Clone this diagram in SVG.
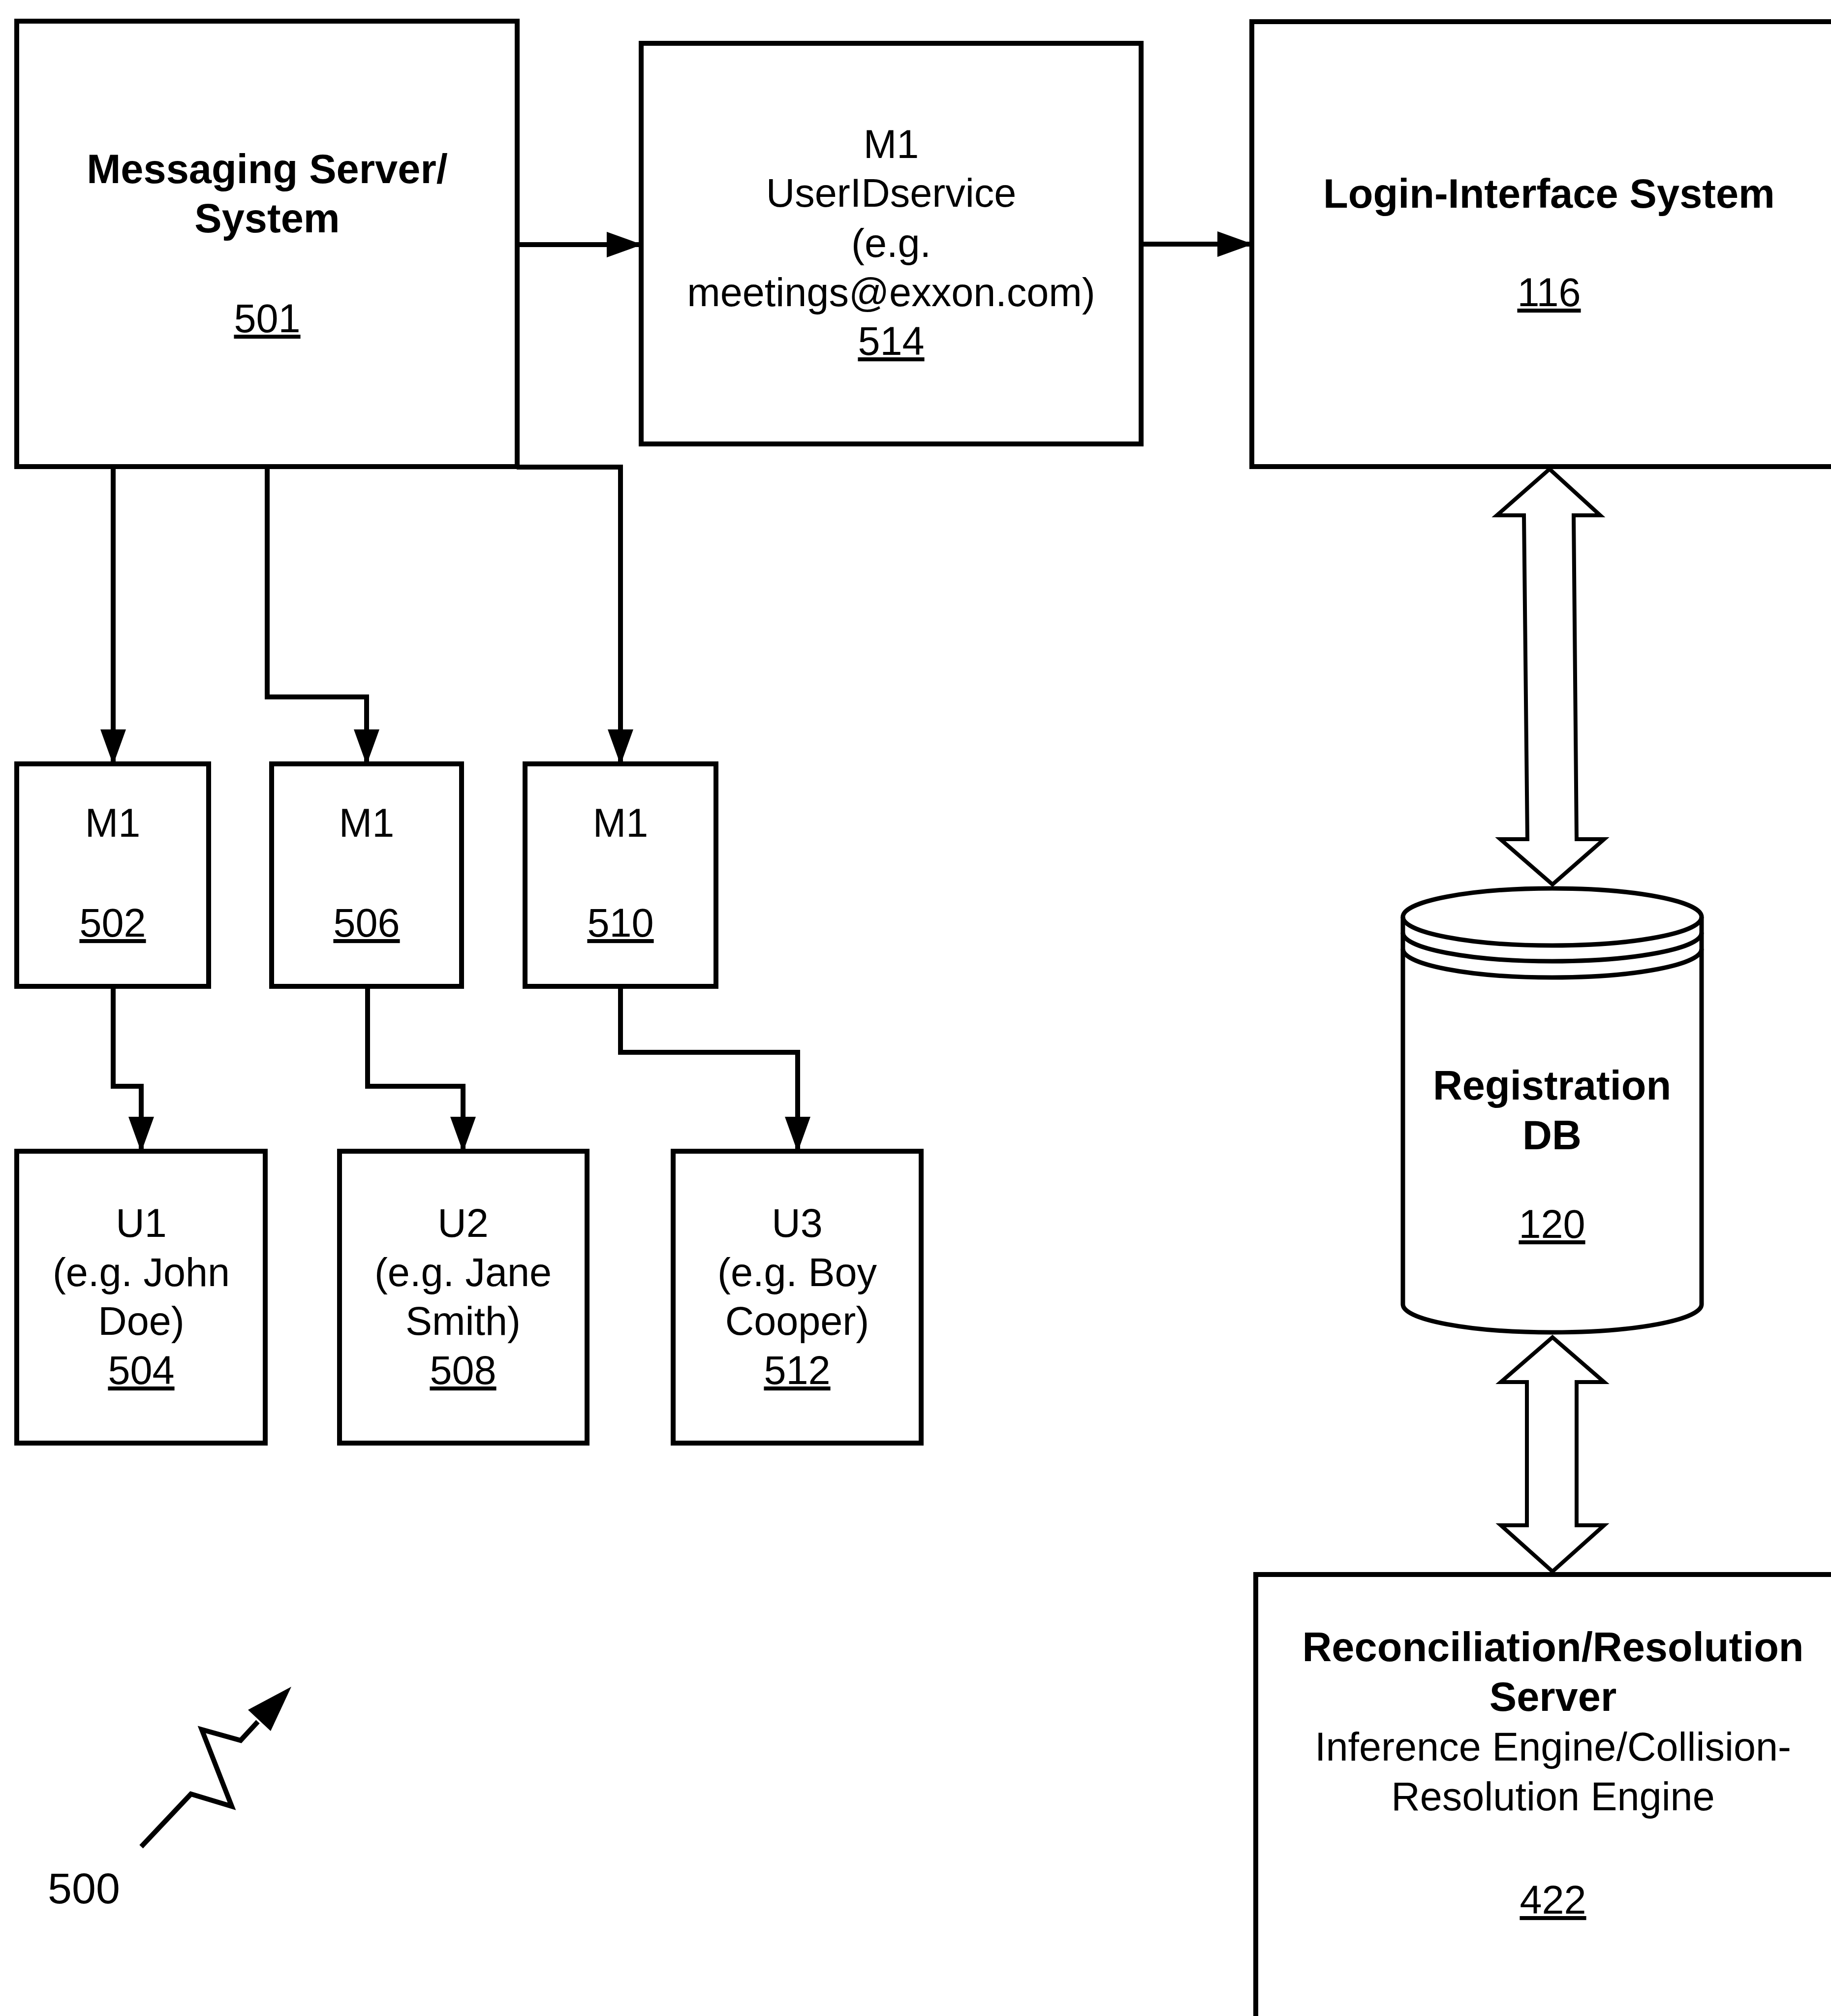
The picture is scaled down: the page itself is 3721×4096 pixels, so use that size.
<svg xmlns="http://www.w3.org/2000/svg" width="3721" height="4096" viewBox="0 0 3721 4096">
  <style>
    .box { fill: #ffffff; stroke: #000000; stroke-width: 10; }
    .wire { fill: none; stroke: #000000; stroke-width: 10; stroke-linejoin: miter; }
    .fat { fill: #ffffff; stroke: #000000; stroke-width: 8; stroke-linejoin: miter; }
    .cyl { fill: none; stroke: #000000; stroke-width: 9; }
    .b { font-family: "Liberation Sans", Arial, sans-serif; font-weight: bold; font-size: 83px; text-anchor: middle; fill: #000000; }
    .r { font-family: "Liberation Sans", Arial, sans-serif; font-size: 81px; text-anchor: middle; fill: #000000; }
    .u { text-decoration: underline; }
  </style>
  <defs>
    <marker id="head" markerUnits="userSpaceOnUse" markerWidth="72" markerHeight="52" viewBox="0 0 72 52" refX="70" refY="26" orient="auto">
      <path d="M0,0 L72,26 L0,52 Z" fill="#000000"/>
    </marker>
  </defs>

  <rect width="3721" height="4096" fill="#ffffff"/>

  <!-- connectors -->
  <g id="connectors">
    <line class="wire" x1="1052" y1="497" x2="1303" y2="497" marker-end="url(#head)"/>
    <line class="wire" x1="2319" y1="496" x2="2544" y2="496" marker-end="url(#head)"/>
    <polyline class="wire" points="230,948 230,1552" marker-end="url(#head)"/>
    <polyline class="wire" points="543,948 543,1416 745,1416 745,1552" marker-end="url(#head)"/>
    <polyline class="wire" points="1050,949 1261,949 1261,1552" marker-end="url(#head)"/>
    <polyline class="wire" points="230,2004 230,2207 287,2207 287,2339" marker-end="url(#head)"/>
    <polyline class="wire" points="747,2004 747,2207 941,2207 941,2339" marker-end="url(#head)"/>
    <polyline class="wire" points="1261,2004 1261,2138 1621,2138 1621,2339" marker-end="url(#head)"/>
    <!-- wide two-way arrows -->
    <polygon class="fat" points="3149,953 3252,1047 3198,1047 3204,1705 3260,1705 3155,1797 3049,1705 3104,1705 3097,1047 3042,1047"/>
    <polygon class="fat" points="3155,2717 3260,2808 3204,2808 3204,3099 3260,3099 3155,3193 3050,3099 3103,3099 3103,2808 3050,2808"/>
  </g>

  <g id="node-501">
    <rect class="box" x="34" y="43" width="1017" height="905"/>
    <text class="b" x="543" y="372">Messaging Server/</text>
    <text class="b" x="543" y="472">System</text>
    <text class="r u" x="543" y="675">501</text>
  </g>

  <g id="node-514">
    <rect class="box" x="1303" y="88" width="1016" height="814"/>
    <text class="r" x="1811" y="321">M1</text>
    <text class="r" x="1811" y="420">UserIDservice</text>
    <text class="r" x="1811" y="522">(e.g.</text>
    <text class="r" x="1811" y="622">meetings@exxon.com)</text>
    <text class="r u" x="1811" y="721">514</text>
  </g>

  <g id="node-116">
    <rect class="box" x="2544" y="44" width="1208" height="904"/>
    <text class="b" x="3148" y="422">Login-Interface System</text>
    <text class="r u" x="3148" y="622">116</text>
  </g>

  <g id="node-502">
    <rect class="box" x="34" y="1552" width="390" height="452"/>
    <text class="r" x="229" y="1700">M1</text>
    <text class="r u" x="229" y="1903">502</text>
  </g>
  <g id="node-506">
    <rect class="box" x="552" y="1552" width="386" height="452"/>
    <text class="r" x="745" y="1700">M1</text>
    <text class="r u" x="745" y="1903">506</text>
  </g>
  <g id="node-510">
    <rect class="box" x="1067" y="1552" width="388" height="452"/>
    <text class="r" x="1261" y="1700">M1</text>
    <text class="r u" x="1261" y="1903">510</text>
  </g>

  <g id="node-504">
    <rect class="box" x="34" y="2339" width="505" height="593"/>
    <text class="r" x="287" y="2513">U1</text>
    <text class="r" x="287" y="2613">(e.g. John</text>
    <text class="r" x="287" y="2712">Doe)</text>
    <text class="r u" x="287" y="2812">504</text>
  </g>
  <g id="node-508">
    <rect class="box" x="690" y="2339" width="503" height="593"/>
    <text class="r" x="941" y="2513">U2</text>
    <text class="r" x="941" y="2613">(e.g. Jane</text>
    <text class="r" x="941" y="2712">Smith)</text>
    <text class="r u" x="941" y="2812">508</text>
  </g>
  <g id="node-512">
    <rect class="box" x="1368" y="2339" width="504" height="593"/>
    <text class="r" x="1620" y="2513">U3</text>
    <text class="r" x="1620" y="2613">(e.g. Boy</text>
    <text class="r" x="1620" y="2712">Cooper)</text>
    <text class="r u" x="1620" y="2812">512</text>
  </g>

  <g id="node-120">
    <path d="M2851,1863 L2851,2650 A303.5,57 0 0 0 3458,2650 L3458,1863" fill="#ffffff" stroke="none"/>
    <ellipse cx="3154.5" cy="1863" rx="303.5" ry="58" fill="#ffffff" stroke="none"/>
    <path class="cyl" d="M2851,1863 L2851,2650 A303.5,57 0 0 0 3458,2650 L3458,1863"/>
    <ellipse class="cyl" cx="3154.5" cy="1863" rx="303.5" ry="58"/>
    <path class="cyl" d="M2851,1895 A303.5,58 0 0 0 3458,1895"/>
    <path class="cyl" d="M2851,1928 A303.5,58 0 0 0 3458,1928"/>
    <text class="b" x="3154" y="2234">Registration</text>
    <text class="b" x="3154" y="2335">DB</text>
    <text class="r u" x="3154" y="2515">120</text>
  </g>

  <g id="node-422">
    <rect class="box" x="2552" y="3199" width="1208" height="1000"/>
    <text class="b" x="3156" y="3375">Reconciliation/Resolution</text>
    <text class="b" x="3156" y="3476">Server</text>
    <text class="r" x="3156" y="3577">Inference Engine/Collision-</text>
    <text class="r" x="3156" y="3678">Resolution Engine</text>
    <text class="r u" x="3156" y="3888">422</text>
  </g>

  <!-- figure reference with lightning arrow -->
  <g id="label-500">
    <polyline points="287,3752 388,3645 471,3670 410,3514 489,3536 524,3498" fill="none" stroke="#000000" stroke-width="10" stroke-linejoin="miter"/>
    <polygon points="592,3427 504,3474 550,3517" fill="#000000"/>
    <text x="97" y="3867" font-family="Liberation Sans, Arial, sans-serif" font-size="88">500</text>
  </g>
</svg>
